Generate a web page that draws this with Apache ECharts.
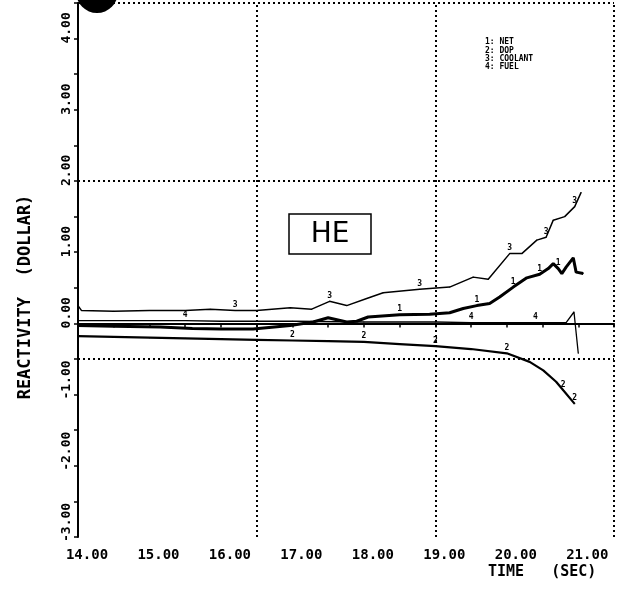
<!DOCTYPE html>
<html lang="en">
  <head>
    <meta charset="UTF-8" />
    <title>HE reactivity</title>
    <script src="https://cdn.jsdelivr.net/npm/echarts@6.0.0/dist/echarts.min.js"></script>
    <style>
      html, body { margin: 0; padding: 0; background: #fff; }
      #chart { width: 617px; height: 591px; }
    </style>
  </head>
  <body>
    <div id="chart"></div>

    <script type="text/javascript">
      // reactivity components vs time (sec)
      const netT = [14.0, 14.5, 15.15, 15.6, 16.0, 16.45, 16.97, 17.29, 17.5, 17.76, 17.9, 18.06, 18.5, 18.92, 19.2, 19.39, 19.58, 19.76, 19.9, 20.09, 20.28, 20.46, 20.58, 20.65, 20.72, 20.77, 20.83, 20.93, 20.97, 21.07];
      const netV = [-0.03, -0.04, -0.05, -0.07, -0.08, -0.08, -0.03, 0.02, 0.08, 0.02, 0.03, 0.09, 0.12, 0.13, 0.15, 0.21, 0.25, 0.28, 0.37, 0.51, 0.64, 0.69, 0.77, 0.84, 0.77, 0.7, 0.79, 0.92, 0.72, 0.7];

      const dopT = [14.0, 14.5, 15.0, 15.5, 16.0, 16.5, 17.0, 17.5, 18.0, 18.5, 19.0, 19.5, 20.0, 20.32, 20.51, 20.69, 20.79, 20.95];
      const dopV = [-0.18, -0.19, -0.2, -0.21, -0.22, -0.23, -0.24, -0.25, -0.26, -0.29, -0.32, -0.36, -0.42, -0.54, -0.66, -0.82, -0.94, -1.13];

      const coolT = [14.0, 14.05, 14.5, 15.0, 15.5, 15.85, 16.2, 16.5, 16.97, 17.27, 17.52, 17.76, 18.04, 18.27, 18.78, 19.2, 19.53, 19.74, 20.04, 20.21, 20.42, 20.55, 20.65, 20.81, 20.95, 21.04];
      const coolV = [0.25, 0.18, 0.17, 0.18, 0.18, 0.2, 0.18, 0.18, 0.22, 0.2, 0.31, 0.25, 0.35, 0.43, 0.48, 0.51, 0.65, 0.62, 0.98, 0.98, 1.17, 1.21, 1.45, 1.5, 1.64, 1.84];

      const fuelT = [14.0, 15.0, 15.5, 16.0, 17.0, 18.0, 19.0, 19.5, 20.0, 20.4, 20.83, 20.94, 21.0];
      const fuelV = [0.04, 0.04, 0.04, 0.03, 0.03, 0.02, 0.02, 0.01, 0.01, 0.01, 0.01, 0.16, -0.42];

      // times where the plotter drew the curve number
      const netMarks = [18.5, 19.58, 20.09, 20.46, 20.72];
      const dopMarks = [17.0, 18.0, 19.0, 20.0, 20.79, 20.95];
      const coolMarks = [16.2, 17.52, 18.78, 20.04, 20.55, 20.95];
      const fuelMarks = [15.5, 19.5, 20.4];

      const legendLines = ["1: NET", "2: DOP", "3: COOLANT", "4: FUEL"];

      // dotted grid lines
      const gridT = [16.5, 19.0, 21.5];
      const gridV = [-0.5, 2.0, 4.5];

      const mono = "DejaVu Sans Mono";

      function buildData(ts, vs, marks, tag) {
        return ts.map((t, i) => {
          if (marks.indexOf(t) >= 0) {
            return {
              value: [t, vs[i]],
              label: { show: true, formatter: tag },
            };
          }
          return { value: [t, vs[i]] };
        });
      }

      function curve(name, ts, vs, marks, tag, width) {
        return {
          name: name,
          type: "line",
          data: buildData(ts, vs, marks, tag),
          symbol: "circle",
          symbolSize: 1,
          showAllSymbol: true,
          itemStyle: { color: "#000" },
          lineStyle: { color: "#000", width: width },
          label: {
            show: false,
            position: "top",
            distance: 1,
            fontFamily: mono,
            fontWeight: "bold",
            fontSize: 8,
            color: "#000",
          },
          silent: true,
        };
      }

      const chart = echarts.init(document.getElementById("chart"));

      const dotted = { color: "#000", width: 2, type: [2, 3] };

      const guides = {
        name: "guides",
        type: "line",
        data: [],
        markLine: {
          silent: true,
          symbol: "none",
          label: { show: false },
          lineStyle: dotted,
          data: gridT.map((t) => ({ xAxis: t })).concat(gridV.map((v) => ({ yAxis: v }))),
        },
      };

      const options = {
        animation: false,
        backgroundColor: "#fff",
        grid: { left: 78, right: 2, top: 3, bottom: 54 },
        xAxis: {
          type: "value",
          min: 14,
          max: 21.5,
          interval: 0.5,
          axisLine: { lineStyle: { color: "#000", width: 2 } },
          axisTick: { length: 4, lineStyle: { color: "#000", width: 1.5 } },
          splitLine: { show: false },
          axisLabel: {
            formatter: (v) => (Number.isInteger(v) ? v.toFixed(2) : ""),
            fontFamily: mono,
            fontWeight: "bold",
            fontSize: 14,
            color: "#000",
            margin: 11,
            padding: [0, 0, 0, 18],
          },
        },
        yAxis: {
          type: "value",
          min: -3,
          max: 4.5,
          interval: 0.5,
          axisLine: { lineStyle: { color: "#000", width: 2 } },
          axisTick: { length: 4, lineStyle: { color: "#000", width: 1.5 } },
          splitLine: { show: false },
          axisLabel: {
            formatter: (v) => (Number.isInteger(v) ? v.toFixed(2) : ""),
            rotate: 90,
            align: "left",
            verticalAlign: "middle",
            fontFamily: mono,
            fontWeight: "bold",
            fontSize: 13,
            color: "#000",
            margin: 11,
            padding: [0, 0, 0, -5],
          },
        },
        series: [
          guides,
          curve("1: NET", netT, netV, netMarks, "1", 3),
          curve("2: DOP", dopT, dopV, dopMarks, "2", 2.2),
          curve("3: COOLANT", coolT, coolV, coolMarks, "3", 1.5),
          curve("4: FUEL", fuelT, fuelV, fuelMarks, "4", 1.3),
        ],
        graphic: [
          // punched hole of the scanned sheet
          { type: "circle", shape: { cx: 97, cy: -8, r: 21 }, style: { fill: "#000" }, z: 100 },
          {
            type: "text",
            x: 485,
            y: 38,
            style: {
              text: legendLines.join("\n"),
              font: "bold 8px " + mono,
              lineHeight: 8.4,
              fill: "#000",
            },
          },
          {
            type: "rect",
            shape: { x: 289, y: 214, width: 82, height: 40 },
            style: { fill: "#fff", stroke: "#000", lineWidth: 1.5 },
          },
          {
            type: "text",
            x: 330,
            y: 235,
            style: {
              text: "HE",
              font: "28px 'DejaVu Sans'",
              textAlign: "center",
              textVerticalAlign: "middle",
              fill: "#000",
            },
          },
          {
            type: "text",
            x: 26,
            y: 297,
            rotation: Math.PI / 2,
            style: {
              text: "REACTIVITY  (DOLLAR)",
              font: "bold 17px " + mono,
              textAlign: "center",
              textVerticalAlign: "middle",
              fill: "#000",
            },
          },
          {
            type: "text",
            x: 488,
            y: 572,
            style: {
              text: "TIME   (SEC)",
              font: "bold 15px " + mono,
              textAlign: "left",
              textVerticalAlign: "middle",
              fill: "#000",
            },
          },
        ],
      };

      chart.setOption(options);
    </script>
  </body>
</html>
